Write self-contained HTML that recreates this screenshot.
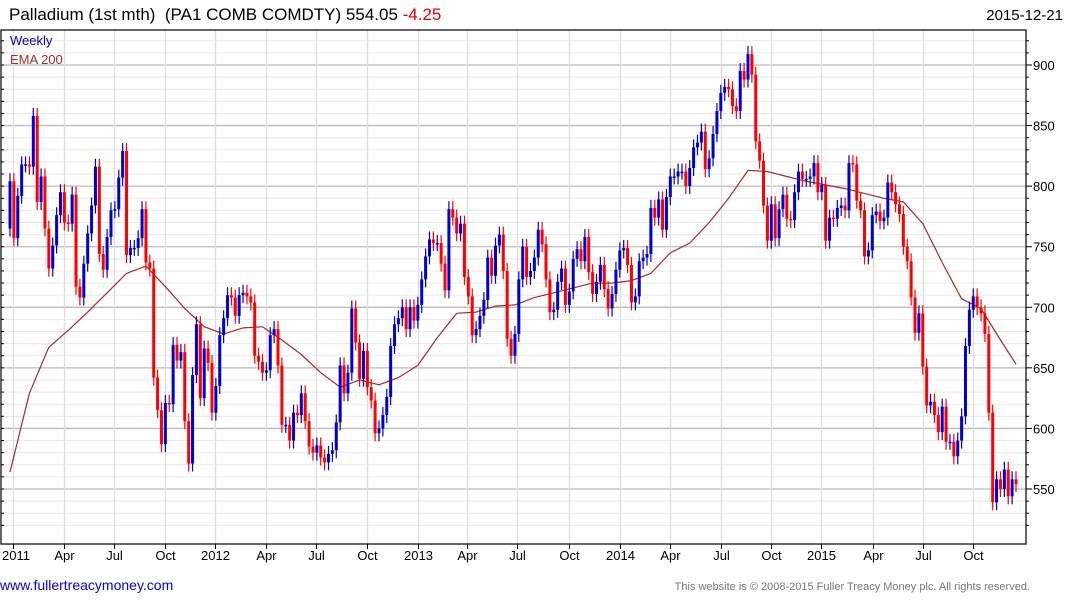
<!DOCTYPE html>
<html><head><meta charset="utf-8">
<style>
body{margin:0;background:#fff;width:1075px;height:600px;overflow:hidden;font-family:"Liberation Sans",sans-serif}
svg{position:absolute;left:0;top:0}
</style></head>
<body>
<svg id="chart" width="1075" height="600" xmlns="http://www.w3.org/2000/svg">
  <g id="grid"></g>
  <g id="ema"></g>
  <g id="candles"></g>
  <g id="axes"></g>
  <text x="9" y="20" font-size="17" fill="#000">Palladium (1st mth) &#160;(PA1 COMB COMDTY) 554.05 <tspan fill="#e00000">-4.25</tspan></text>
  <text x="1063" y="20" font-size="15" fill="#000" text-anchor="end">2015-12-21</text>
  <text x="10" y="45" font-size="13" fill="#0000cc">Weekly</text>
  <text x="10" y="64" font-size="13" fill="#a52a2a">EMA 200</text>
  <text x="0" y="590" font-size="14" fill="#0000ee">www.fullertreacymoney.com</text>
  <text x="1030" y="590" font-size="11" fill="#777" text-anchor="end">This website is © 2008-2015 Fuller Treacy Money plc. All rights reserved.</text>
</svg>
<script>
const closes = [804,757,792,818,818,816,858,787,808,765,732,751,776,795,770,769,793,717,708,736,761,784,816,744,731,758,780,781,807,829,743,749,749,757,781,737,732,642,615,587,621,620,669,656,663,606,571,644,686,625,666,654,613,635,677,691,710,708,693,710,712,709,704,660,655,646,648,677,682,
652,603,603,590,613,611,629,606,585,580,586,576,572,579,582,605,652,629,646,699,671,641,664,634,623,596,600,611,626,668,686,691,700,682,700,689,702,723,742,756,753,753,736,714,781,774,761,769,725,709,677,682,693,706,741,726,751,760,730,674,660,678,723,750,725,730,741,764,752,723,696,698,721,732,702,
713,740,748,738,758,729,711,721,735,715,699,711,731,747,749,735,704,709,738,741,744,782,774,789,764,791,808,808,812,812,800,815,832,836,845,814,823,843,862,877,882,880,866,862,895,888,909,892,837,821,784,755,785,757,781,793,773,772,795,812,806,806,808,819,795,
801,755,774,773,782,784,780,819,818,788,780,742,747,776,779,771,774,803,795,785,777,750,738,708,679,695,651,619,622,611,597,618,589,589,577,590,610,668,698,709,700,695,678,613,539,558,550,566,544,558,554];
const firstOpen = 765;
// EMA 200 values, sampled every 5th candle, plus the last candle
const emaValues = [564,629,667,681,696,712,728,734,717,699,684,678,683,684,673,661,646,634,640,636,642,652,675,695,696,701,702,708,712,716,720,720,722,728,745,753,770,790,813,812,808,804,801,798,794,790,787,769,737,707,699,673,653];
const emaStep = 5;
const yTicks = [550,600,650,700,750,800,850,900];
const xTickLabels = ["2011","Apr","Jul","Oct","2012","Apr","Jul","Oct","2013","Apr","Jul","Oct","2014","Apr","Jul","Oct","2015","Apr","Jul","Oct"];
const xTickWeeks = [0.9,13.8,26.7,40,52.9,65.8,78.7,91.8,105.1,117.7,130.6,143.9,157.1,169.9,183,195.8,208.7,222.1,235,248];

const NS="http://www.w3.org/2000/svg";
const L=1, R=1026, T=30, B=544;
const x0=10, xEnd=1016;
const step=(xEnd-x0)/(closes.length-1);
function xs(i){return x0+i*step;}
function ys(v){return 489-(v-550)*1.2114;}
function mk(tag,attrs,parent){const e=document.createElementNS(NS,tag);for(const k in attrs)e.setAttribute(k,attrs[k]);parent.appendChild(e);return e;}
const grid=document.getElementById('grid'), axes=document.getElementById('axes'), cg=document.getElementById('candles'), eg=document.getElementById('ema');

for(let v=520;v<=930;v+=10){const y=ys(v);if(y<T||y>B)continue;
  const major=v%50===0;
  const ln=mk('line',{x1:L,x2:R,y1:y,y2:y,stroke:major?'#bbbbbb':'#e8e8e8','stroke-width':major?1.3:1},grid);
  
  
  const t=mk('line',{x1:R,x2:R+(major?6:3),y1:y,y2:y,stroke:'#000'},axes);
  
  
  const t2=mk('line',{x1:L,x2:L+3,y1:y,y2:y,stroke:'#000'},axes);
  
  
}
yTicks.forEach(v=>{
  const t=mk('text',{x:1033,y:ys(v)+5,'font-size':13,fill:'#000'},axes);
  t.textContent=v;
  
  
});
xTickWeeks.forEach((w,i)=>{
  const x=Math.round(xs(w))+0.5;
  const ln=mk('line',{x1:x,x2:x,y1:T,y2:B,stroke:'#dddddd','stroke-width':1.3},grid);
  
  
  const tk=mk('line',{x1:x,x2:x,y1:B,y2:B+5,stroke:'#000'},axes);
  
  
  const t=mk('text',{x:i===0?2:x,y:560,'font-size':13,fill:'#000','text-anchor':i===0?'start':'middle'},axes);
  t.textContent=xTickLabels[i];
  
  
});
const frame=mk('rect',{x:L,y:T,width:R-L,height:B-T,fill:'none',stroke:'#000','stroke-width':1.2},axes);



closes.forEach((c,i)=>{
  const o=i===0?firstOpen:closes[i-1];
  const up=c>=o;
  const col=up?'#0000d0':'#ff0000';
  const x=xs(i);
  const yt=ys(Math.max(o,c)), yb=ys(Math.min(o,c));
  const w=mk('line',{x1:x,x2:x,y1:yt-8,y2:yb+8,stroke:col,'stroke-width':1.2},cg);
  
  
  const b=mk('rect',{x:x-1.5,y:yt,width:3,height:Math.max(1.5,yb-yt),fill:col},cg);
  
  
});

const pts=emaValues.map((v,k)=>{const i=Math.min(k*emaStep,closes.length-1);return xs(i).toFixed(1)+','+ys(v).toFixed(1);}).join(' ');
const pl=mk('polyline',{points:pts,fill:'none',stroke:'#a52a2a','stroke-width':1.2,'stroke-linejoin':'round'},eg);


</script>
</body></html>
